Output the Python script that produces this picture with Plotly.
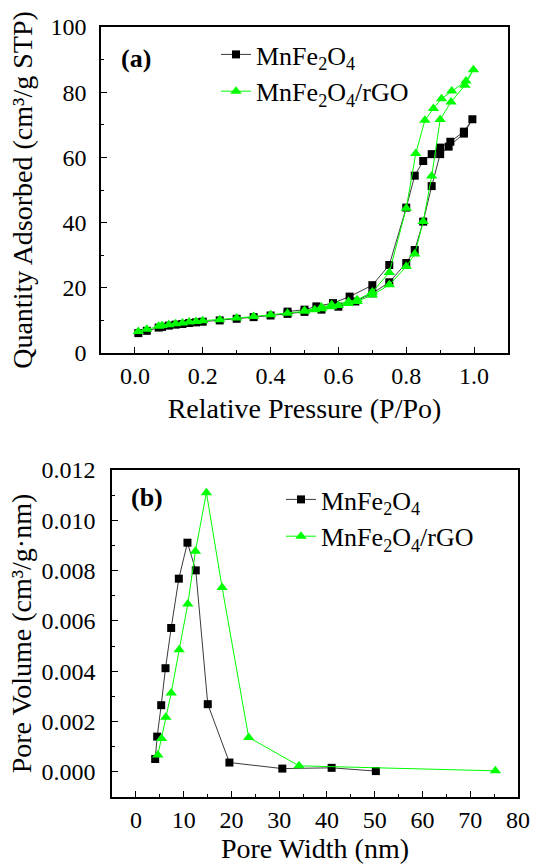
import plotly.graph_objects as go

# ---------------- (a) N2 adsorption-desorption isotherms ----------------
p_mn = [0.01, 0.035, 0.07, 0.08, 0.10, 0.12, 0.14, 0.16, 0.18, 0.20, 0.25, 0.30, 0.35, 0.40,
        0.45, 0.50, 0.55, 0.60, 0.65, 0.70, 0.75, 0.80, 0.825, 0.85, 0.875, 0.90, 0.925, 0.97, 0.995,
        0.97, 0.93, 0.90, 0.875, 0.85, 0.825, 0.80, 0.75, 0.70, 0.633, 0.584, 0.535, 0.50, 0.45]
q_mn = [6.1, 6.8, 7.8, 8.0, 8.4, 8.7, 8.9, 9.2, 9.4, 9.6, 10.0, 10.5, 11.0, 11.5,
        12.0, 12.6, 13.3, 14.2, 15.8, 18.3, 21.7, 27.6, 31.6, 40.3, 51.2, 61.0, 63.3, 67.3, 71.7,
        67.9, 64.8, 63.0, 61.0, 58.9, 54.4, 44.6, 27.0, 20.8, 17.3, 15.3, 14.3, 13.3, 12.7]

p_rgo = [0.01, 0.035, 0.07, 0.08, 0.10, 0.12, 0.14, 0.16, 0.18, 0.20, 0.25, 0.30, 0.35, 0.40,
         0.45, 0.50, 0.53, 0.55, 0.58, 0.60, 0.63, 0.655, 0.70, 0.75, 0.80, 0.825, 0.85, 0.875,
         0.90, 0.932, 0.973, 0.998,
         0.976, 0.934, 0.904, 0.88, 0.855, 0.828, 0.80, 0.75, 0.70, 0.655, 0.63, 0.58, 0.55, 0.50]
q_rgo = [6.6, 7.3, 8.2, 8.4, 8.7, 9.0, 9.2, 9.5, 9.7, 9.9, 10.2, 10.7, 11.2, 11.7,
         12.2, 12.8, 13.3, 13.6, 14.2, 14.6, 15.2, 15.8, 17.8, 20.9, 26.5, 30.4, 40.3, 54.3,
         71.6, 77.0, 82.1, 86.9,
         83.4, 80.4, 78.0, 75.0, 71.4, 61.2, 44.4, 24.7, 18.7, 16.3, 15.8, 14.8, 14.1, 13.0]

# ---------------- (b) pore size distribution ----------------
w_mn = [4.04, 4.46, 5.30, 6.20, 7.39, 8.99, 10.80, 12.54, 15.05, 19.58, 30.66, 40.98, 50.24]
v_mn = [0.00051, 0.00140, 0.00265, 0.00412, 0.00572, 0.00768, 0.00911, 0.00801, 0.00269,
        0.00037, 0.00013, 0.00016, 0.00003]

w_rgo = [4.60, 5.37, 6.27, 7.39, 9.06, 10.87, 12.47, 14.77, 18.05, 23.62, 34.15, 75.26]
v_rgo = [0.00067, 0.00133, 0.00217, 0.00313, 0.00485, 0.00667, 0.00877, 0.01110, 0.00733,
         0.00137, 0.00024, 0.00004]

names = ["MnFe<sub>2</sub>O<sub>4</sub>", "MnFe<sub>2</sub>O<sub>4</sub>/rGO"]

BLACK_LINE = "#3a3a3a"
GREEN = "#00ff00"
FONT = "'Liberation Serif', 'Times New Roman', Times, serif"

fig = go.Figure()

sq = dict(symbol="square", size=8, color="black")
tri = dict(symbol="triangle-up", size=10, color=GREEN)

fig.add_trace(go.Scatter(x=p_mn, y=q_mn, mode="lines+markers", name=names[0],
                         line=dict(color=BLACK_LINE, width=1), marker=sq,
                         xaxis="x", yaxis="y", legend="legend"))
fig.add_trace(go.Scatter(x=p_rgo, y=q_rgo, mode="lines+markers", name=names[1],
                         line=dict(color=GREEN, width=1), marker=tri,
                         xaxis="x", yaxis="y", legend="legend"))
fig.add_trace(go.Scatter(x=w_mn, y=v_mn, mode="lines+markers", name=names[0],
                         line=dict(color=BLACK_LINE, width=1), marker=sq,
                         xaxis="x2", yaxis="y2", legend="legend2"))
fig.add_trace(go.Scatter(x=w_rgo, y=v_rgo, mode="lines+markers", name=names[1],
                         line=dict(color=GREEN, width=1), marker=tri,
                         xaxis="x2", yaxis="y2", legend="legend2"))

W, H = 534, 864

def ax(**kw):
    base = dict(showline=True, linecolor="black", linewidth=1.5, mirror=True,
                ticks="inside", ticklen=6, tickwidth=1.2, tickcolor="black",
                showgrid=False, zeroline=False, automargin=False,
                tickfont=dict(family=FONT, size=24, color="black"),
                minor=dict(ticks="inside", ticklen=3, tickwidth=1.2, tickcolor="black"),
                title_font=dict(family=FONT, size=28, color="black"))
    base.update(kw)
    return base

fig.update_layout(
    template="none",
    width=W, height=H,
    margin=dict(l=0, r=0, t=0, b=0, autoexpand=False),
    paper_bgcolor="white", plot_bgcolor="white",
    font=dict(family=FONT, color="black"),
    xaxis=ax(domain=[101 / W, 508 / W], anchor="y", range=[-0.1, 1.1],
             tick0=0, dtick=0.2, tickformat=".1f",
             minor_dtick=0.1,
             title=dict(text="Relative Pressure (P/Po)", standoff=11)),
    yaxis=ax(domain=[1 - 353 / H, 1 - 27 / H], anchor="x", range=[0, 100],
             tick0=0, dtick=20, minor_dtick=10, ticklabelstandoff=8,
             title=dict(text="Quantity Adsorbed (cm³/g STP)", standoff=10)),
    xaxis2=ax(domain=[112 / W, 518 / W], anchor="y2", range=[-5, 80],
              tick0=0, dtick=10, minor_dtick=5,
              title=dict(text="Pore Width (nm)", standoff=8)),
    yaxis2=ax(domain=[1 - 797 / H, 1 - 470 / H], anchor="x2", range=[-0.001, 0.012],
              tick0=0, dtick=0.002, minor_dtick=0.001, tickformat=".3f", ticklabelstandoff=10,
              title=dict(text="Pore Volume (cm³/g·nm)", standoff=2)),
    legend=dict(x=216 / W, y=1 - 31 / H, xanchor="left", yanchor="top",
                bgcolor="rgba(0,0,0,0)", font=dict(family=FONT, size=26, color="black"),
                itemwidth=30, tracegroupgap=0),
    legend2=dict(x=281 / W, y=1 - 476 / H, xanchor="left", yanchor="top",
                 bgcolor="rgba(0,0,0,0)", font=dict(family=FONT, size=26, color="black"),
                 itemwidth=30, tracegroupgap=0),
    showlegend=True,
    annotations=[
        dict(text="<b>(a)</b>", x=119 / W, y=1 - 58 / H, xref="paper", yref="paper",
             xanchor="left", yanchor="middle", showarrow=False,
             font=dict(family=FONT, size=26, color="black")),
        dict(text="<b>(b)</b>", x=129 / W, y=1 - 498 / H, xref="paper", yref="paper",
             xanchor="left", yanchor="middle", showarrow=False,
             font=dict(family=FONT, size=26, color="black")),
    ],
)

fig.write_html("out.html", config={"displayModeBar": False},
               post_script="document.body.style.margin='0px';document.body.style.overflow='hidden';")
